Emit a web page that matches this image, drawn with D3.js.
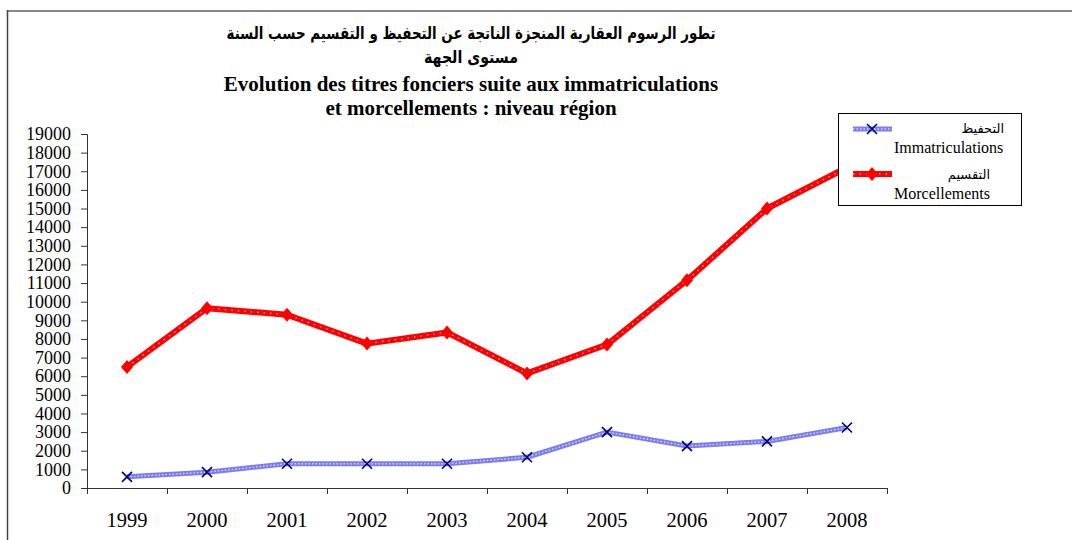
<!DOCTYPE html>
<html>
<head>
<meta charset="utf-8">
<script src="https://cdn.jsdelivr.net/npm/d3@7"></script>
<style>
  html, body { margin: 0; padding: 0; background: #fff; }
  svg { display: block; }
</style>
</head>
<body>
<div id="chart"></div>
<script>
const years = ["1999", "2000", "2001", "2002", "2003", "2004", "2005", "2006", "2007", "2008"];
const immatriculations = [600, 850, 1300, 1300, 1300, 1650, 3000, 2250, 2500, 3250];
const morcellements = [6500, 9650, 9300, 7750, 8350, 6150, 7700, 11150, 15000, 17200];
const yTicks = d3.range(0, 19001, 1000);
const titleAr = ["تطور الرسوم العقارية المنجزة الناتجة عن التحفيظ و التقسيم حسب السنة", "مستوى الجهة"];
const titleFr = ["Evolution des titres fonciers suite aux immatriculations", "et morcellements : niveau région"];

const W = 1072, H = 540;
const plot = { left: 87, right: 887, top: 134, bottom: 488 };
const SERIF = "'Liberation Serif', 'Times New Roman', serif";
const ARABIC = "'DejaVu Sans', sans-serif";

const svg = d3.select("#chart").append("svg")
    .attr("width", W).attr("height", H)
    .attr("viewBox", [0, 0, W, H]);

// outer frame (only top & left edges visible)
svg.append("line").attr("x1", 7).attr("x2", W).attr("y1", 11).attr("y2", 11)
    .attr("stroke", "#888").attr("stroke-width", 2);
svg.append("line").attr("x1", 7.5).attr("x2", 7.5).attr("y1", 10).attr("y2", H)
    .attr("stroke", "#444").attr("stroke-width", 1.5);

// titles
const tg = svg.append("g").attr("text-anchor", "middle").attr("font-weight", "bold").attr("fill", "#000");
const arWidths = [489, 94];
tg.selectAll("text.ar").data(titleAr).join("text").attr("class", "ar")
    .attr("x", 471).attr("y", (d, i) => 39 + i * 24)
    .attr("font-family", ARABIC).attr("font-size", 17)
    .attr("textLength", (d, i) => arWidths[i]).attr("lengthAdjust", "spacingAndGlyphs")
    .text(d => d);
tg.selectAll("text.fr").data(titleFr).join("text").attr("class", "fr")
    .attr("x", 471).attr("y", (d, i) => 91 + i * 24)
    .attr("font-family", SERIF).attr("font-size", 21)
    .text(d => d);

// scales
const x = d3.scaleBand().domain(years).range([plot.left, plot.right]);
const y = d3.scaleLinear().domain([0, 19000]).range([plot.bottom, plot.top]);
const cx = d => x(d) + x.bandwidth() / 2;

// y axis
const yAxis = svg.append("g").attr("transform", `translate(${plot.left},0)`)
    .call(d3.axisLeft(y).tickValues(yTicks).tickSize(6).tickPadding(10).tickFormat(d3.format("d")));
yAxis.selectAll("text").attr("font-family", SERIF).attr("font-size", 18).attr("fill", "#000");
yAxis.selectAll("line, path").attr("stroke", "#333");

// x axis: ticks between categories
const xEdge = d3.scaleLinear().domain([0, years.length]).range([plot.left, plot.right]);
const xAxis = svg.append("g").attr("transform", `translate(0,${plot.bottom})`)
    .call(d3.axisBottom(xEdge).tickValues(d3.range(0, years.length + 1)).tickSize(6).tickFormat(""));
xAxis.selectAll("line, path").attr("stroke", "#333");
svg.append("g").selectAll("text").data(years).join("text")
    .attr("x", d => cx(d)).attr("y", 527)
    .attr("text-anchor", "middle").attr("font-family", SERIF).attr("font-size", 20.5)
    .text(d => d);

const line = d3.line().x(d => cx(d.year)).y(d => y(d.value));
const immData = years.map((yr, i) => ({ year: yr, value: immatriculations[i] }));
const morData = years.map((yr, i) => ({ year: yr, value: morcellements[i] }));

// Immatriculations: textured blue line + navy X markers
const drawImmLine = (g, path) => {
    g.append("path").attr("d", path).attr("fill", "none")
        .attr("stroke", "#7b7bf2").attr("stroke-width", 5).attr("stroke-linejoin", "round");
    g.append("path").attr("d", path).attr("fill", "none")
        .attr("stroke", "#fff").attr("stroke-opacity", 0.7).attr("stroke-width", 1.4)
        .attr("stroke-dasharray", "1.5,2");
};
const xMark = (g, px, py) => {
    g.append("path").attr("d", `M${px - 5},${py - 5}L${px + 5},${py + 5}M${px - 5},${py + 5}L${px + 5},${py - 5}`)
        .attr("stroke", "#000080").attr("stroke-width", 1.6);
};
const gImm = svg.append("g");
drawImmLine(gImm, line(immData));
immData.forEach(d => xMark(gImm, cx(d.year), y(d.value)));

// Morcellements: thick red line with white dots + red diamond markers
const drawMorLine = (g, path) => {
    g.append("path").attr("d", path).attr("fill", "none")
        .attr("stroke", "#ff0000").attr("stroke-width", 6).attr("stroke-linejoin", "round");
    g.append("path").attr("d", path).attr("fill", "none")
        .attr("stroke", "#fff").attr("stroke-opacity", 0.6).attr("stroke-width", 1.5)
        .attr("stroke-dasharray", "1.5,5");
};
const diamond = (g, px, py) => {
    g.append("path").attr("d", `M${px},${py - 7}L${px + 6},${py}L${px},${py + 7}L${px - 6},${py}Z`)
        .attr("fill", "#ff0000");
};
const gMor = svg.append("g");
drawMorLine(gMor, line(morData));
morData.forEach(d => diamond(gMor, cx(d.year), y(d.value)));

// legend
const lg = svg.append("g");
lg.append("rect").attr("x", 838.5).attr("y", 113.5).attr("width", 183).attr("height", 92)
    .attr("fill", "#fff").attr("stroke", "#000").attr("stroke-width", 1);
drawImmLine(lg, "M853,129L892,129");
xMark(lg, 872, 129);
drawMorLine(lg, "M853,174L892,174");
diamond(lg, 872, 174);
lg.append("text").attr("x", 1004).attr("y", 133).attr("text-anchor", "end")
    .attr("font-family", ARABIC).attr("font-size", 13).text("التحفيظ");
lg.append("text").attr("x", 894).attr("y", 153)
    .attr("font-family", SERIF).attr("font-size", 16).text("Immatriculations");
lg.append("text").attr("x", 990).attr("y", 179).attr("text-anchor", "end")
    .attr("font-family", ARABIC).attr("font-size", 13).text("التقسيم");
lg.append("text").attr("x", 894).attr("y", 199)
    .attr("font-family", SERIF).attr("font-size", 16).text("Morcellements");
</script>
</body>
</html>
